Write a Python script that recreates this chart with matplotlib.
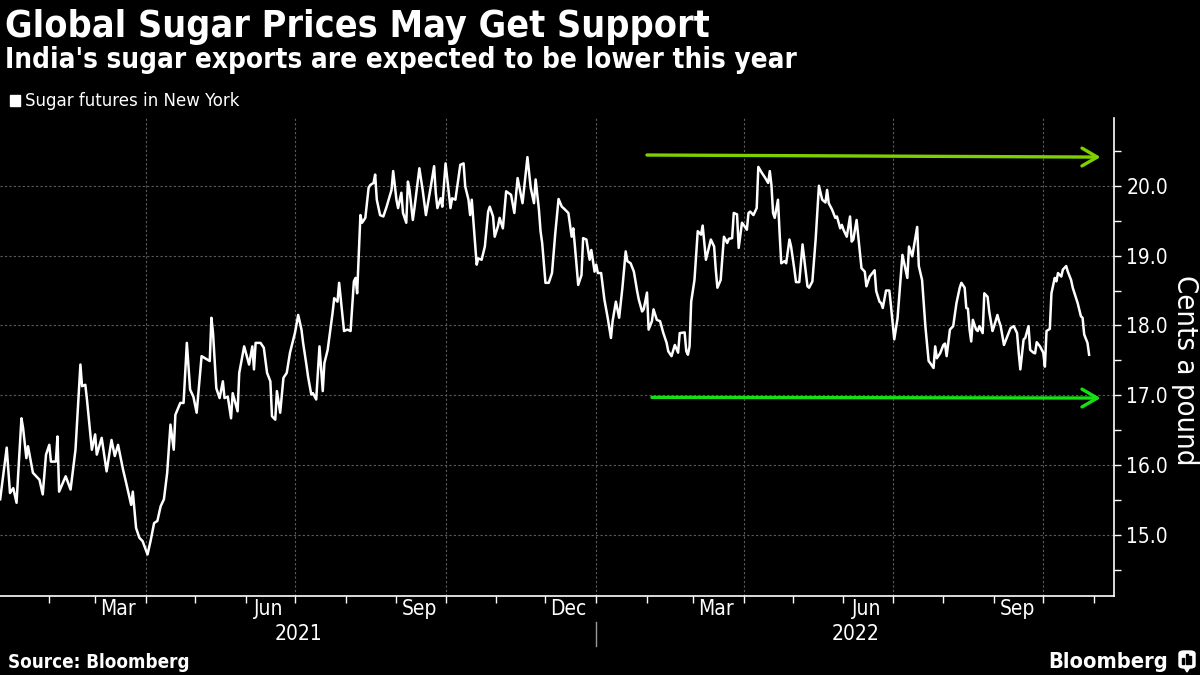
import pandas as pd
import matplotlib
matplotlib.use("Agg")
import matplotlib.pyplot as plt
import matplotlib.dates as mdates
import matplotlib.ticker as mticker
import matplotlib.transforms as mtransforms
from matplotlib import font_manager
from matplotlib.patches import FancyBboxPatch, Rectangle, Polygon

_names = {f.name for f in font_manager.fontManager.ttflist}
FONT = "Liberation Sans Narrow" if "Liberation Sans Narrow" in _names else "DejaVu Sans"
plt.rcParams["font.family"] = [FONT, "DejaVu Sans"]
plt.rcParams["font.stretch"] = "condensed"

# --- data: sugar futures (cents/lb), day offsets from 2021-01-01 ---
START = pd.Timestamp("2021-01-01")
days = [
    1, 5, 7, 9, 11, 14, 15, 17, 18, 21,
    25, 27, 29, 31, 32, 35, 36, 37, 41, 44,
    47, 50, 51, 53, 54, 57, 59, 60, 63, 66,
    69, 71, 73, 76, 78, 81, 82, 84, 86, 88,
    91, 93, 95, 97, 99, 101, 103, 105, 107, 108,
    111, 113, 115, 117, 119, 121, 124, 129, 130, 131,
    133, 135, 137, 138, 140, 142, 143, 146, 147, 150,
    153, 155, 156, 157, 160, 162, 164, 166, 167, 169,
    170, 172, 174, 176, 178, 181, 183, 185, 186, 188,
    189, 191, 192, 194, 195, 196, 198, 199, 201, 204,
    205, 207, 208, 211, 213, 215, 217, 218, 219, 221,
    222, 224, 226, 227, 229, 230, 231, 233, 235, 237,
    240, 241, 243, 244, 246, 247, 249, 250, 251, 253,
    254, 257, 259, 261, 264, 266, 267, 268, 270, 271,
    273, 275, 276, 277, 279, 282, 284, 285, 287, 288,
    289, 292, 293, 295, 297, 299, 300, 302, 303, 305,
    306, 308, 310, 313, 315, 317, 318, 320, 323, 325,
    327, 328, 330, 331, 332, 334, 336, 338, 340, 342,
    344, 345, 348, 350, 351, 352, 354, 356, 357, 359,
    361, 362, 364, 365, 366, 368, 370, 372, 374, 375,
    377, 379, 381, 383, 384, 386, 388, 390, 391, 393,
    394, 396, 397, 399, 400, 402, 404, 406, 408, 409,
    411, 413, 415, 416, 419, 420, 421, 422, 423, 425,
    427, 429, 430, 432, 435, 437, 438, 439, 441, 443,
    445, 446, 448, 449, 451, 452, 454, 455, 457, 458,
    459, 461, 463, 464, 466, 468, 470, 471, 472, 473,
    474, 476, 477, 478, 480, 481, 483, 484, 486, 487,
    489, 491, 494, 495, 497, 499, 501, 503, 505, 506,
    507, 509, 511, 512, 514, 515, 516, 518, 520, 521,
    522, 524, 526, 527, 529, 530, 532, 535, 536, 538,
    539, 540, 542, 544, 545, 547, 549, 552, 553, 555,
    556, 558, 559, 561, 562, 564, 566, 568, 569, 571,
    572, 573, 575, 577, 578, 579, 581, 583, 585, 587,
    588, 590, 591, 592, 593, 594, 595, 597, 598, 599,
    601, 602, 604, 605, 607, 608, 610, 611, 612, 614,
    616, 618, 620, 622, 623, 624, 626, 627, 629, 630,
    632, 633, 634, 636, 638, 639, 640, 642, 643, 645,
    646, 647, 649, 650, 652, 653, 655, 656, 658, 659,
    661, 662, 663, 665, 666,
]
price = [
    15.51, 16.25, 15.60, 15.67, 15.46, 16.67, 16.53, 16.10, 16.27, 15.89,
    15.79, 15.58, 16.15, 16.29, 16.05, 16.05, 16.41, 15.62, 15.84, 15.65,
    16.22, 17.44, 17.13, 17.15, 16.94, 16.22, 16.44, 16.15, 16.39, 15.91,
    16.36, 16.13, 16.29, 15.94, 15.74, 15.43, 15.62, 15.10, 14.96, 14.91,
    14.72, 14.93, 15.17, 15.20, 15.41, 15.51, 15.89, 16.58, 16.22, 16.72,
    16.89, 16.89, 17.75, 17.08, 16.98, 16.75, 17.56, 17.49, 18.11, 17.89,
    17.10, 16.96, 17.20, 16.96, 16.98, 16.67, 17.03, 16.77, 17.32, 17.70,
    17.44, 17.70, 17.37, 17.75, 17.75, 17.68, 17.32, 17.20, 16.70, 16.65,
    17.06, 16.75, 17.25, 17.32, 17.61, 17.89, 18.15, 17.94, 17.75, 17.44,
    17.27, 17.01, 17.03, 16.94, 17.32, 17.70, 17.06, 17.46, 17.65, 18.18,
    18.39, 18.34, 18.61, 17.92, 17.94, 17.92, 18.63, 18.68, 18.46, 19.58,
    19.47, 19.54, 19.97, 20.01, 20.04, 20.16, 19.80, 19.58, 19.56, 19.70,
    19.94, 20.21, 19.80, 19.68, 19.90, 19.61, 19.47, 20.06, 19.94, 19.51,
    19.68, 20.25, 19.94, 19.58, 19.99, 20.28, 19.90, 19.68, 19.82, 19.70,
    20.32, 19.90, 19.68, 19.82, 19.80, 20.30, 20.32, 19.99, 19.80, 19.58,
    19.80, 18.87, 18.96, 18.94, 19.13, 19.63, 19.70, 19.56, 19.27, 19.42,
    19.54, 19.39, 19.92, 19.87, 19.61, 20.11, 19.99, 19.75, 20.41, 19.97,
    19.75, 20.09, 19.66, 19.35, 19.18, 18.61, 18.61, 18.75, 19.32, 19.81,
    19.70, 19.68, 19.61, 19.27, 19.39, 19.13, 18.58, 18.72, 19.25, 19.23,
    18.94, 19.08, 18.77, 18.87, 18.75, 18.75, 18.37, 18.11, 17.82, 18.06,
    18.34, 18.11, 18.54, 19.06, 18.92, 18.89, 18.77, 18.49, 18.37, 18.20,
    18.23, 18.47, 17.94, 18.06, 18.23, 18.08, 18.06, 17.89, 17.75, 17.63,
    17.56, 17.72, 17.61, 17.89, 17.90, 17.63, 17.58, 17.70, 18.34, 18.65,
    19.35, 19.30, 19.43, 18.94, 19.23, 19.13, 18.80, 18.54, 18.65, 19.27,
    19.18, 19.24, 19.25, 19.61, 19.59, 19.11, 19.47, 19.44, 19.37, 19.61,
    19.63, 19.58, 19.68, 20.27, 20.19, 20.12, 20.04, 20.21, 20.01, 19.61,
    19.54, 19.80, 19.32, 18.89, 18.92, 18.89, 19.23, 19.13, 18.80, 18.62,
    18.62, 19.16, 18.56, 18.54, 18.63, 19.23, 20.00, 19.80, 19.76, 19.94,
    19.75, 19.66, 19.54, 19.56, 19.39, 19.44, 19.37, 19.27, 19.56, 19.20,
    19.23, 19.51, 19.04, 18.82, 18.77, 18.56, 18.70, 18.79, 18.49, 18.34,
    18.32, 18.25, 18.50, 18.50, 18.28, 17.80, 18.10, 19.01, 18.90, 18.68,
    19.13, 18.99, 19.13, 19.41, 18.85, 18.65, 17.99, 17.49, 17.46, 17.39,
    17.70, 17.53, 17.60, 17.72, 17.74, 17.56, 17.94, 17.99, 18.32, 18.54,
    18.61, 18.54, 18.25, 18.24, 17.94, 17.77, 18.08, 17.94, 17.92, 17.99,
    17.89, 18.46, 18.41, 18.20, 17.92, 17.99, 18.15, 18.06, 17.99, 17.72,
    17.84, 17.96, 17.99, 17.89, 17.61, 17.37, 17.80, 17.82, 17.99, 17.65,
    17.61, 17.60, 17.76, 17.70, 17.61, 17.41, 17.92, 17.95, 18.46, 18.68,
    18.63, 18.75, 18.70, 18.80, 18.85, 18.77, 18.65, 18.54, 18.39, 18.32,
    18.13, 18.11, 17.87, 17.75, 17.58,
]

# range arrows: (start day, start value, end day, end value)
top_arrow = (396, 20.44, 673, 20.41)
bottom_arrow = (399, 16.97, 673, 16.96)

month_labels = ["Mar", "Jun", "Sep", "Dec", "Mar", "Jun", "Sep"]
month_label_dates = ["2021-03-15", "2021-06-15", "2021-09-15", "2021-12-15",
                     "2022-03-15", "2022-06-15", "2022-09-15"]
y_ticks = [15, 16, 17, 18, 19, 20]

TITLE = "Global Sugar Prices May Get Support"
SUBTITLE = "India's sugar exports are expected to be lower this year"
LEGEND = "Sugar futures in New York"
Y_LABEL = "Cents a pound"
SOURCE = "Source: Bloomberg"

UP_GREEN = "#7fd000"
LOW_GREEN = "#14e014"
GRID = "#5c5c5c"


def day(n):
    return START + pd.Timedelta(days=n)


def main():
    dates = [day(d) for d in days]
    x_left, x_right = day(0.9), day(681.2)

    fig = plt.figure(figsize=(12, 6.75), dpi=100, facecolor="black")
    W, H = 1200, 675
    ax = fig.add_axes([0, 1 - 595.7 / H, 1114 / W, (595.7 - 118) / H])
    ax.set_facecolor("black")

    ax.plot(dates, price, color="white", lw=1.8, zorder=3)

    for d0, v0, d1, v1, col in [(*top_arrow, UP_GREEN), (*bottom_arrow, LOW_GREEN)]:
        ax.annotate("", xy=(day(d1), v1), xytext=(day(d0), v0),
                    arrowprops=dict(arrowstyle="->,head_length=0.55,head_width=0.32",
                                    color=col, lw=2.4, shrinkA=0, shrinkB=0,
                                    mutation_scale=20), zorder=4)

    ax.set_xlim(x_left, x_right)
    ax.set_ylim(14.13, 20.97)

    # x axis: month ticks, quarter gridlines
    ax.xaxis.set_major_locator(mdates.MonthLocator(bymonth=[1, 4, 7, 10]))
    ax.xaxis.set_minor_locator(mdates.MonthLocator())
    ax.xaxis.set_major_formatter(mticker.NullFormatter())
    ax.tick_params(axis="x", which="both", direction="out", length=5, width=1,
                   color="white")

    # y axis on the right
    ax.yaxis.tick_right()
    ax.yaxis.set_major_locator(mticker.FixedLocator(y_ticks))
    ax.yaxis.set_minor_locator(mticker.MultipleLocator(0.5))
    ax.yaxis.set_major_formatter(mticker.FormatStrFormatter("%.1f"))
    ax.tick_params(axis="y", which="both", direction="out", length=5, width=1,
                   color="white", labelcolor="white", labelsize=15, pad=4)

    ax.grid(True, which="major", color=GRID, lw=0.8, ls=(0, (2, 2)))
    for s in ["top", "left"]:
        ax.spines[s].set_visible(False)
    for s in ["bottom", "right"]:
        ax.spines[s].set_color("white")
        ax.spines[s].set_linewidth(1.2)

    # month + year labels under the axis
    tr = mtransforms.blended_transform_factory(ax.transData, fig.transFigure)
    for lab, dt in zip(month_labels, month_label_dates):
        ax.text(pd.Timestamp(dt), 1 - 609 / H, lab, transform=tr, ha="center",
                va="center", color="white", fontsize=15)
    jan22 = pd.Timestamp("2022-01-01")
    ax.text(x_left + (jan22 - x_left) / 2, 1 - 634 / H, "2021", transform=tr,
            ha="center", va="center", color="white", fontsize=15)
    ax.text(jan22 + (x_right - jan22) / 2, 1 - 634 / H, "2022", transform=tr,
            ha="center", va="center", color="white", fontsize=15)
    ax.plot([jan22, jan22], [1 - 622 / H, 1 - 646 / H], transform=tr,
            color="#9a9a9a", lw=1, clip_on=False)

    # titles, legend, source
    fig.text(5 / W, 1 - 37 / H, TITLE, color="white", fontsize=27,
             fontweight="bold", va="baseline")
    fig.text(5 / W, 1 - 68 / H, SUBTITLE, color="white", fontsize=20,
             fontweight="bold", va="baseline")
    fig.patches.append(Rectangle((10 / W, 1 - 106 / H), 10 / W, 11 / H,
                                 transform=fig.transFigure, color="white"))
    fig.text(25 / W, 1 - 106 / H, LEGEND, color="white", fontsize=13.3,
             va="baseline")
    fig.text(1185 / W, 1 - 370 / H, Y_LABEL, color="white", fontsize=21,
             rotation=270, ha="center", va="center")
    fig.text(8 / W, 1 - 668 / H, SOURCE, color="white", fontsize=13.5,
             fontweight="bold", va="baseline")

    # Bloomberg logo
    fig.text(1168 / W, 1 - 668 / H, "Bloomberg", color="white", fontsize=15.7,
             fontweight="bold", ha="right", va="baseline")
    fig.patches.append(FancyBboxPatch((1179 / W, 1 - 668 / H), 16 / W, 17 / H,
                                      boxstyle="round,pad=0,rounding_size=0.004",
                                      transform=fig.transFigure, color="white"))
    fig.patches.append(Polygon([(1184 / W, 1 - 667 / H), (1190 / W, 1 - 667 / H),
                                (1187 / W, 1 - 672 / H)],
                               transform=fig.transFigure, color="white"))
    for bx, bh in [(1182, 6), (1185.5, 10), (1189, 8)]:
        fig.patches.append(Rectangle((bx / W, 1 - 664 / H), 2 / W, bh / H,
                                     transform=fig.transFigure, color="black"))

    fig.savefig("out.png", dpi=100, facecolor="black")


if __name__ == "__main__":
    main()
